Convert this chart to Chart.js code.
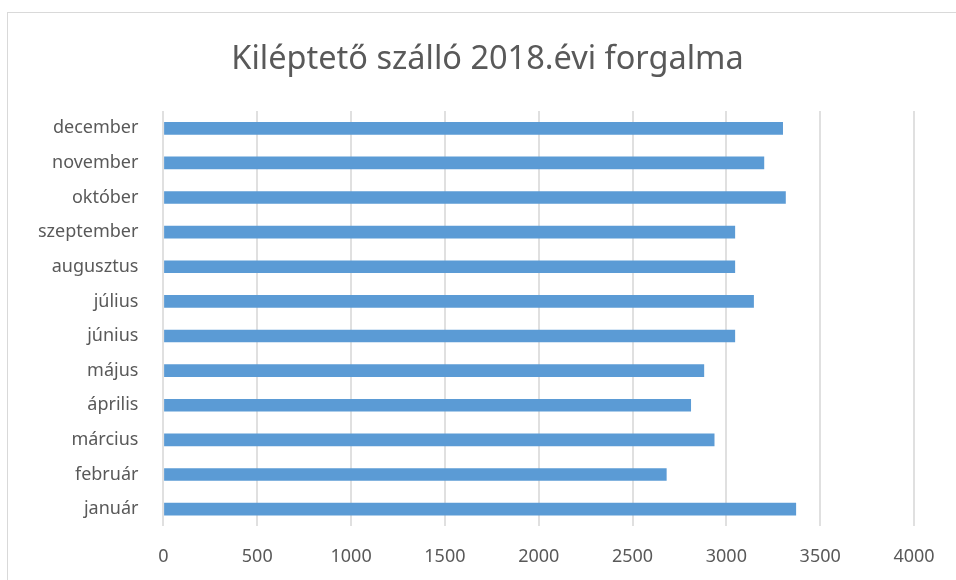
<!DOCTYPE html>
<html>
<head>
<meta charset="utf-8">
<script src="https://cdn.jsdelivr.net/npm/chart.js@4"></script>
<style>
  body { margin: 0; background: #fff; }
  #wrap { position: relative; width: 956px; height: 580px; overflow: hidden; }
  #frame { position: absolute; left: 7px; top: 12px; width: 1000px; height: 1000px;
           border-top: 1px solid #d9d9d9; border-left: 1px solid #d9d9d9; }
  #cim { position: absolute; left: 19px; top: 37px; width: 937px; line-height: 40px;
         text-align: center; font-family: 'Noto Sans', sans-serif; font-size: 32.5px; color: #595959; }
  canvas { position: absolute; left: 0; top: 0; }
</style>
</head>
<body>
<div id="wrap">
  <div id="frame"></div>
  <canvas id="chart" width="956" height="580"></canvas>
  <div id="cim"></div>
</div>
<script>
// honapok (januar alul, december felul)
const honapok = ["január", "február", "március", "április", "május", "június",
  "július", "augusztus", "szeptember", "október", "november", "december"];
const forgalom = [3370, 2680, 2935, 2810, 2880, 3045, 3145, 3045, 3045, 3315, 3200, 3300];
const cim = "Kiléptető szálló 2018.évi forgalma";
const xTengely = { min: 0, max: 4000, lepes: 500 };

const szurke = "#595959";
const betu = "'Noto Sans', sans-serif";

// cim a teljes keret kozepere
document.getElementById("cim").textContent = cim;

const ctx = document.getElementById("chart").getContext("2d");

new Chart(ctx, {
  type: "bar",
  data: {
    labels: honapok,
    datasets: [{
      label: "forgalom",
      data: forgalom,
      backgroundColor: "#5b9bd5",
      barThickness: 12
    }]
  },
  options: {
    indexAxis: "y",
    responsive: false,
    animation: false,
    layout: { padding: { left: 13, right: 42, top: 111, bottom: -8 } },
    plugins: {
      legend: { display: false },
      tooltip: { enabled: false },
      title: { display: false }
    },
    scales: {
      x: {
        min: xTengely.min,
        max: xTengely.max,
        ticks: {
          stepSize: xTengely.lepes,
          color: szurke,
          padding: 20,
          font: { family: betu, size: 18 },
          callback: v => String(v)
        },
        grid: { color: "#e0e0e0", lineWidth: 2, drawTicks: false },
        border: { display: false }
      },
      y: {
        reverse: true,
        ticks: {
          color: szurke,
          padding: 25,
          font: { family: betu, size: 18 }
        },
        grid: { display: false, drawTicks: false },
        border: { display: false }
      }
    }
  }
});
</script>
</body>
</html>
